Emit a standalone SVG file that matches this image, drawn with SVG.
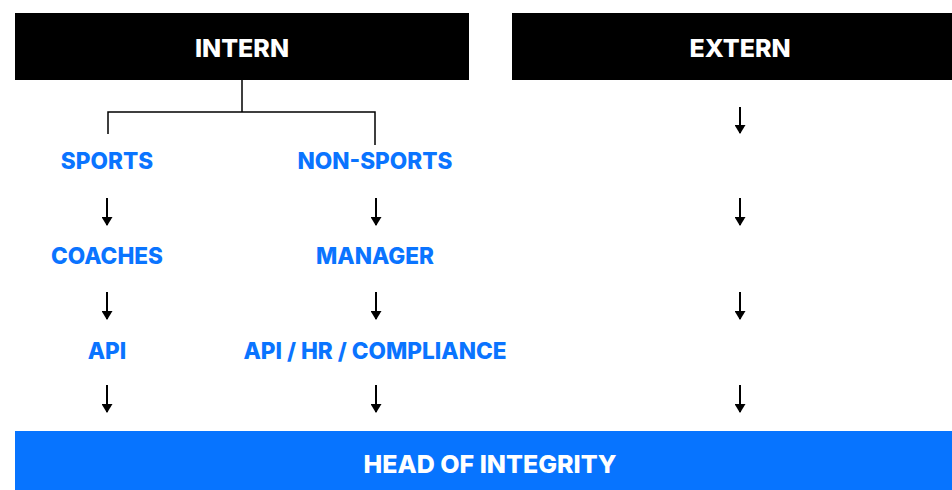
<svg xmlns="http://www.w3.org/2000/svg" width="952" height="490" viewBox="0 0 952 490">
<defs>
<style>
.hdr{fill:#000}
.ht{fill:#fff;font-family:Inter,"Liberation Sans",sans-serif;font-weight:800;font-size:25px;text-anchor:middle}
.lb{fill:#0A74FF;font-family:Inter,"Liberation Sans",sans-serif;font-weight:800;font-size:22.6px;text-anchor:middle}
.ln{stroke:#000;stroke-width:1.5;fill:none}
.ar{stroke:#000;stroke-width:2;fill:none}
</style>
<marker id="ah" viewBox="0 0 9 11" refX="8" refY="5.5" markerWidth="9" markerHeight="11" markerUnits="userSpaceOnUse" orient="auto">
<path d="M0,0 L9,5.5 L0,11 Z" fill="#000"/>
</marker>
</defs>
<rect width="952" height="490" fill="#fff"/>
<g id="intern"><rect class="hdr" x="15" y="13" width="454" height="67"/><text class="ht" x="242" y="57">INTERN</text></g>
<g id="extern"><rect class="hdr" x="512" y="13" width="440" height="67"/><text class="ht" x="740" y="57">EXTERN</text></g>
<g id="sports"><text class="lb" x="107" y="169">SPORTS</text></g>
<g id="nonsports"><text class="lb" x="375" y="169">NON-SPORTS</text></g>
<g id="coaches"><text class="lb" x="107" y="264">COACHES</text></g>
<g id="manager"><text class="lb" x="375" y="264">MANAGER</text></g>
<g id="api"><text class="lb" x="107" y="359">API</text></g>
<g id="apihr"><text class="lb" x="375" y="359">API / HR / COMPLIANCE</text></g>
<g id="head"><rect x="15" y="431" width="937" height="59" fill="#0774FF"/><text class="ht" x="490" y="473">HEAD OF INTEGRITY</text></g>
<g id="connectors">
<path class="ln" d="M242,80 V112 M108,134 V112 H375 V145"/>
<g marker-end="url(#ah)">
<line class="ar" x1="107" y1="198" x2="107" y2="225"/>
<line class="ar" x1="107" y1="292" x2="107" y2="319"/>
<line class="ar" x1="107" y1="385" x2="107" y2="412"/>
<line class="ar" x1="376" y1="198" x2="376" y2="225"/>
<line class="ar" x1="376" y1="292" x2="376" y2="319"/>
<line class="ar" x1="376" y1="385" x2="376" y2="412"/>
<line class="ar" x1="740" y1="107" x2="740" y2="133"/>
<line class="ar" x1="740" y1="198" x2="740" y2="225"/>
<line class="ar" x1="740" y1="292" x2="740" y2="319"/>
<line class="ar" x1="740" y1="385" x2="740" y2="412"/>
</g>
</g>
</svg>
